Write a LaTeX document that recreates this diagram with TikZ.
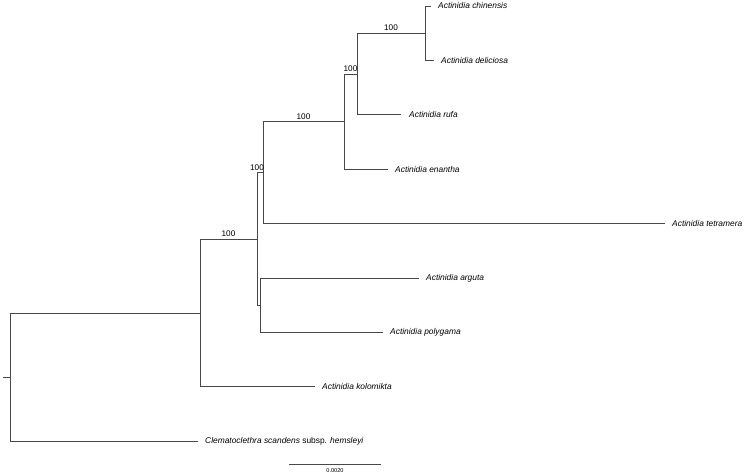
\documentclass[tikz,border=0pt]{standalone}
\usepackage{fontspec}
\setmainfont{Liberation Sans}
\begin{document}
\begin{tikzpicture}[x=1pt,y=-1pt,
  branch/.style={draw=black!72,line width=0.7pt},
  taxon/.style={anchor=west,inner sep=0pt,font=\fontsize{8.4}{10}\selectfont\itshape},
  boot/.style={inner sep=0pt,font=\fontsize{8.2}{10}\selectfont},
  scalelab/.style={inner sep=0pt,font=\fontsize{5.6}{7}\selectfont}]
\useasboundingbox (0,0) rectangle (745,476);
% internal nodes
\coordinate (G) at (425,33.2);
\coordinate (F) at (357,74);
\coordinate (E) at (344,121.6);
\coordinate (C) at (263,172.6);
\coordinate (D) at (260,305.2);
\coordinate (B) at (257,238.9);
\coordinate (A) at (200,312.85);
\coordinate (R) at (10,377);
\coordinate (stub) at (3,377);
% tip ends
\coordinate (tchin) at (431,6);
\coordinate (tdeli) at (434,60.4);
\coordinate (trufa) at (401,114.8);
\coordinate (tenan) at (388,169.2);
\coordinate (ttetr) at (665,223.6);
\coordinate (targu) at (419,278);
\coordinate (tpoly) at (383,332.4);
\coordinate (tkolo) at (315,386.8);
\coordinate (tclem) at (198,441.2);
% taxon labels
\node[taxon] (lchin) at ([xshift=7pt]tchin) {Actinidia chinensis};
\node[taxon] (ldeli) at ([xshift=7pt]tdeli) {Actinidia deliciosa};
\node[taxon] (lrufa) at ([xshift=8pt]trufa) {Actinidia rufa};
\node[taxon] (lenan) at ([xshift=7pt]tenan) {Actinidia enantha};
\node[taxon] (ltetr) at ([xshift=7pt]ttetr) {Actinidia tetramera};
\node[taxon] (largu) at ([xshift=7pt]targu) {Actinidia arguta};
\node[taxon] (lpoly) at ([xshift=7pt]tpoly) {Actinidia polygama};
\node[taxon] (lkolo) at ([xshift=7pt]tkolo) {Actinidia kolomikta};
\node[taxon] (lclem) at ([xshift=7pt]tclem) {Clematoclethra scandens {\upshape subsp.} hemsleyi};
% branches
\draw[branch] (stub) -- (R);
\draw[branch] (R) |- (A);
\draw[branch] (R) |- (tclem);
\draw[branch] (A) |- (B);
\draw[branch] (A) |- (tkolo);
\draw[branch] (B) |- (C);
\draw[branch] (B) |- (D);
\draw[branch] (C) |- (E);
\draw[branch] (C) |- (ttetr);
\draw[branch] (D) |- (targu);
\draw[branch] (D) |- (tpoly);
\draw[branch] (E) |- (F);
\draw[branch] (E) |- (tenan);
\draw[branch] (F) |- (G);
\draw[branch] (F) |- (trufa);
\draw[branch] (G) |- (tchin);
\draw[branch] (G) |- (tdeli);
% bootstrap values
\path (F |- G) -- (G) node[boot,midway,above=2pt] (bG) {100};
\path (E |- F) -- (F) node[boot,midway,above=2pt] (bF) {100};
\path (C |- E) -- (E) node[boot,midway,above=2pt] (bE) {100};
\path (B |- C) -- (C) node[boot,midway,above=2pt,xshift=-3pt] (bC) {100};
\path (A |- B) -- (B) node[boot,midway,above=2pt] (bB) {100};
% scale bar
\coordinate (sb1) at (289,464);
\coordinate (sb2) at (381,464);
\draw[branch] (sb1) -- (sb2) node[scalelab,midway,below=4pt] (sbl) {0.0020};
\end{tikzpicture}
\end{document}
